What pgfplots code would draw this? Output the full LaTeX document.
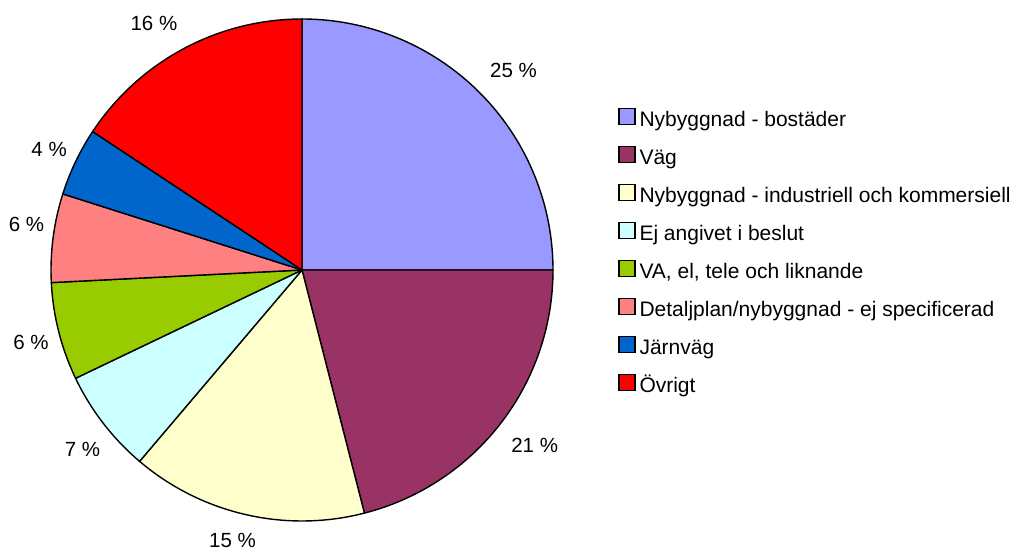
\documentclass[border=0pt]{standalone}
\usepackage{pgfplots}
\pgfplotsset{compat=1.18}
\usepackage{pgfplotstable}
\usepackage{fontspec}
\setmainfont{Liberation Sans}

\definecolor{cBost}{HTML}{9999FF}
\definecolor{cVag}{HTML}{993366}
\definecolor{cInd}{HTML}{FFFFCC}
\definecolor{cEj}{HTML}{CCFFFF}
\definecolor{cVA}{HTML}{99CC00}
\definecolor{cDet}{HTML}{FF8080}
\definecolor{cJarn}{HTML}{0066CC}
\definecolor{cOvr}{HTML}{FF0000}

% share of decisions per purpose (percent), label placement (angle, radius)
\pgfplotstableread[col sep=comma]{
share,color,labang,labrad
25.0,cBost,43.3,290.7
21.0,cVag,-37.0,291.3
15.2,cInd,-104.4,279.5
6.7,cEj,-140.7,283.6
6.3,cVA,-165.0,280.5
5.7,cDet,170.6,279.2
4.4,cJarn,154.5,280.2
15.7,cOvr,121.0,287.5
}\piedata

\begin{document}
\begin{tikzpicture}[font=\fontsize{20.5}{24}\selectfont]
\begin{axis}[
    scale only axis,
    width=1020pt, height=551pt,
    xmin=0, xmax=1020, ymin=0, ymax=551,
    hide axis, clip=false,
    legend style={draw=none, fill=none, at={(axis cs:618,443)}, anchor=north west,
        inner sep=0pt, row sep=16.3pt, column sep=4pt,
        font=\fontsize{21}{25}\selectfont,
        nodes={inner sep=0pt, text height=15pt, text depth=3pt},
        cells={anchor=west}},
    legend image code/.code={\draw[#1, line width=1.3pt] (0pt,-4pt) rectangle (16pt,12pt);},
]
\addlegendimage{draw=black, fill=cBost}
\addlegendentry{Nybyggnad - bostäder}
\addlegendimage{draw=black, fill=cVag}
\addlegendentry{Väg}
\addlegendimage{draw=black, fill=cInd}
\addlegendentry{Nybyggnad - industriell och kommersiell}
\addlegendimage{draw=black, fill=cEj}
\addlegendentry{Ej angivet i beslut}
\addlegendimage{draw=black, fill=cVA}
\addlegendentry{VA, el, tele och liknande}
\addlegendimage{draw=black, fill=cDet}
\addlegendentry{Detaljplan/nybyggnad - ej specificerad}
\addlegendimage{draw=black, fill=cJarn}
\addlegendentry{Järnväg}
\addlegendimage{draw=black, fill=cOvr}
\addlegendentry{Övrigt}

\pgfplotsextra{
  \pgfplotstablegetrowsof{\piedata}
  \pgfmathtruncatemacro\lastrow{\pgfplotsretval-1}
  \xdef\angA{90}
  \foreach \i in {0,...,\lastrow}{
    \pgfplotstablegetelem{\i}{share}\of\piedata \let\sh\pgfplotsretval
    \pgfplotstablegetelem{\i}{color}\of\piedata \let\col\pgfplotsretval
    \pgfplotstablegetelem{\i}{labang}\of\piedata \let\la\pgfplotsretval
    \pgfplotstablegetelem{\i}{labrad}\of\piedata \let\lr\pgfplotsretval
    \pgfmathsetmacro\angB{\angA-3.6*\sh}
    \filldraw[fill=\col, draw=black, line width=1.4pt, line join=round]
      (axis cs:302,281) -- ++(\angA:251pt) arc[start angle=\angA, end angle=\angB, radius=251pt] -- cycle;
    \path (axis cs:302,281) ++(\la:\lr pt) node {\pgfmathprintnumber[fixed,precision=0,assume math mode=true]{\sh}~\%};
    \xdef\angA{\angB}
  }
}
\end{axis}
\pgfresetboundingbox
\path (0,0) rectangle (1020pt,551pt);
\end{tikzpicture}
\end{document}
